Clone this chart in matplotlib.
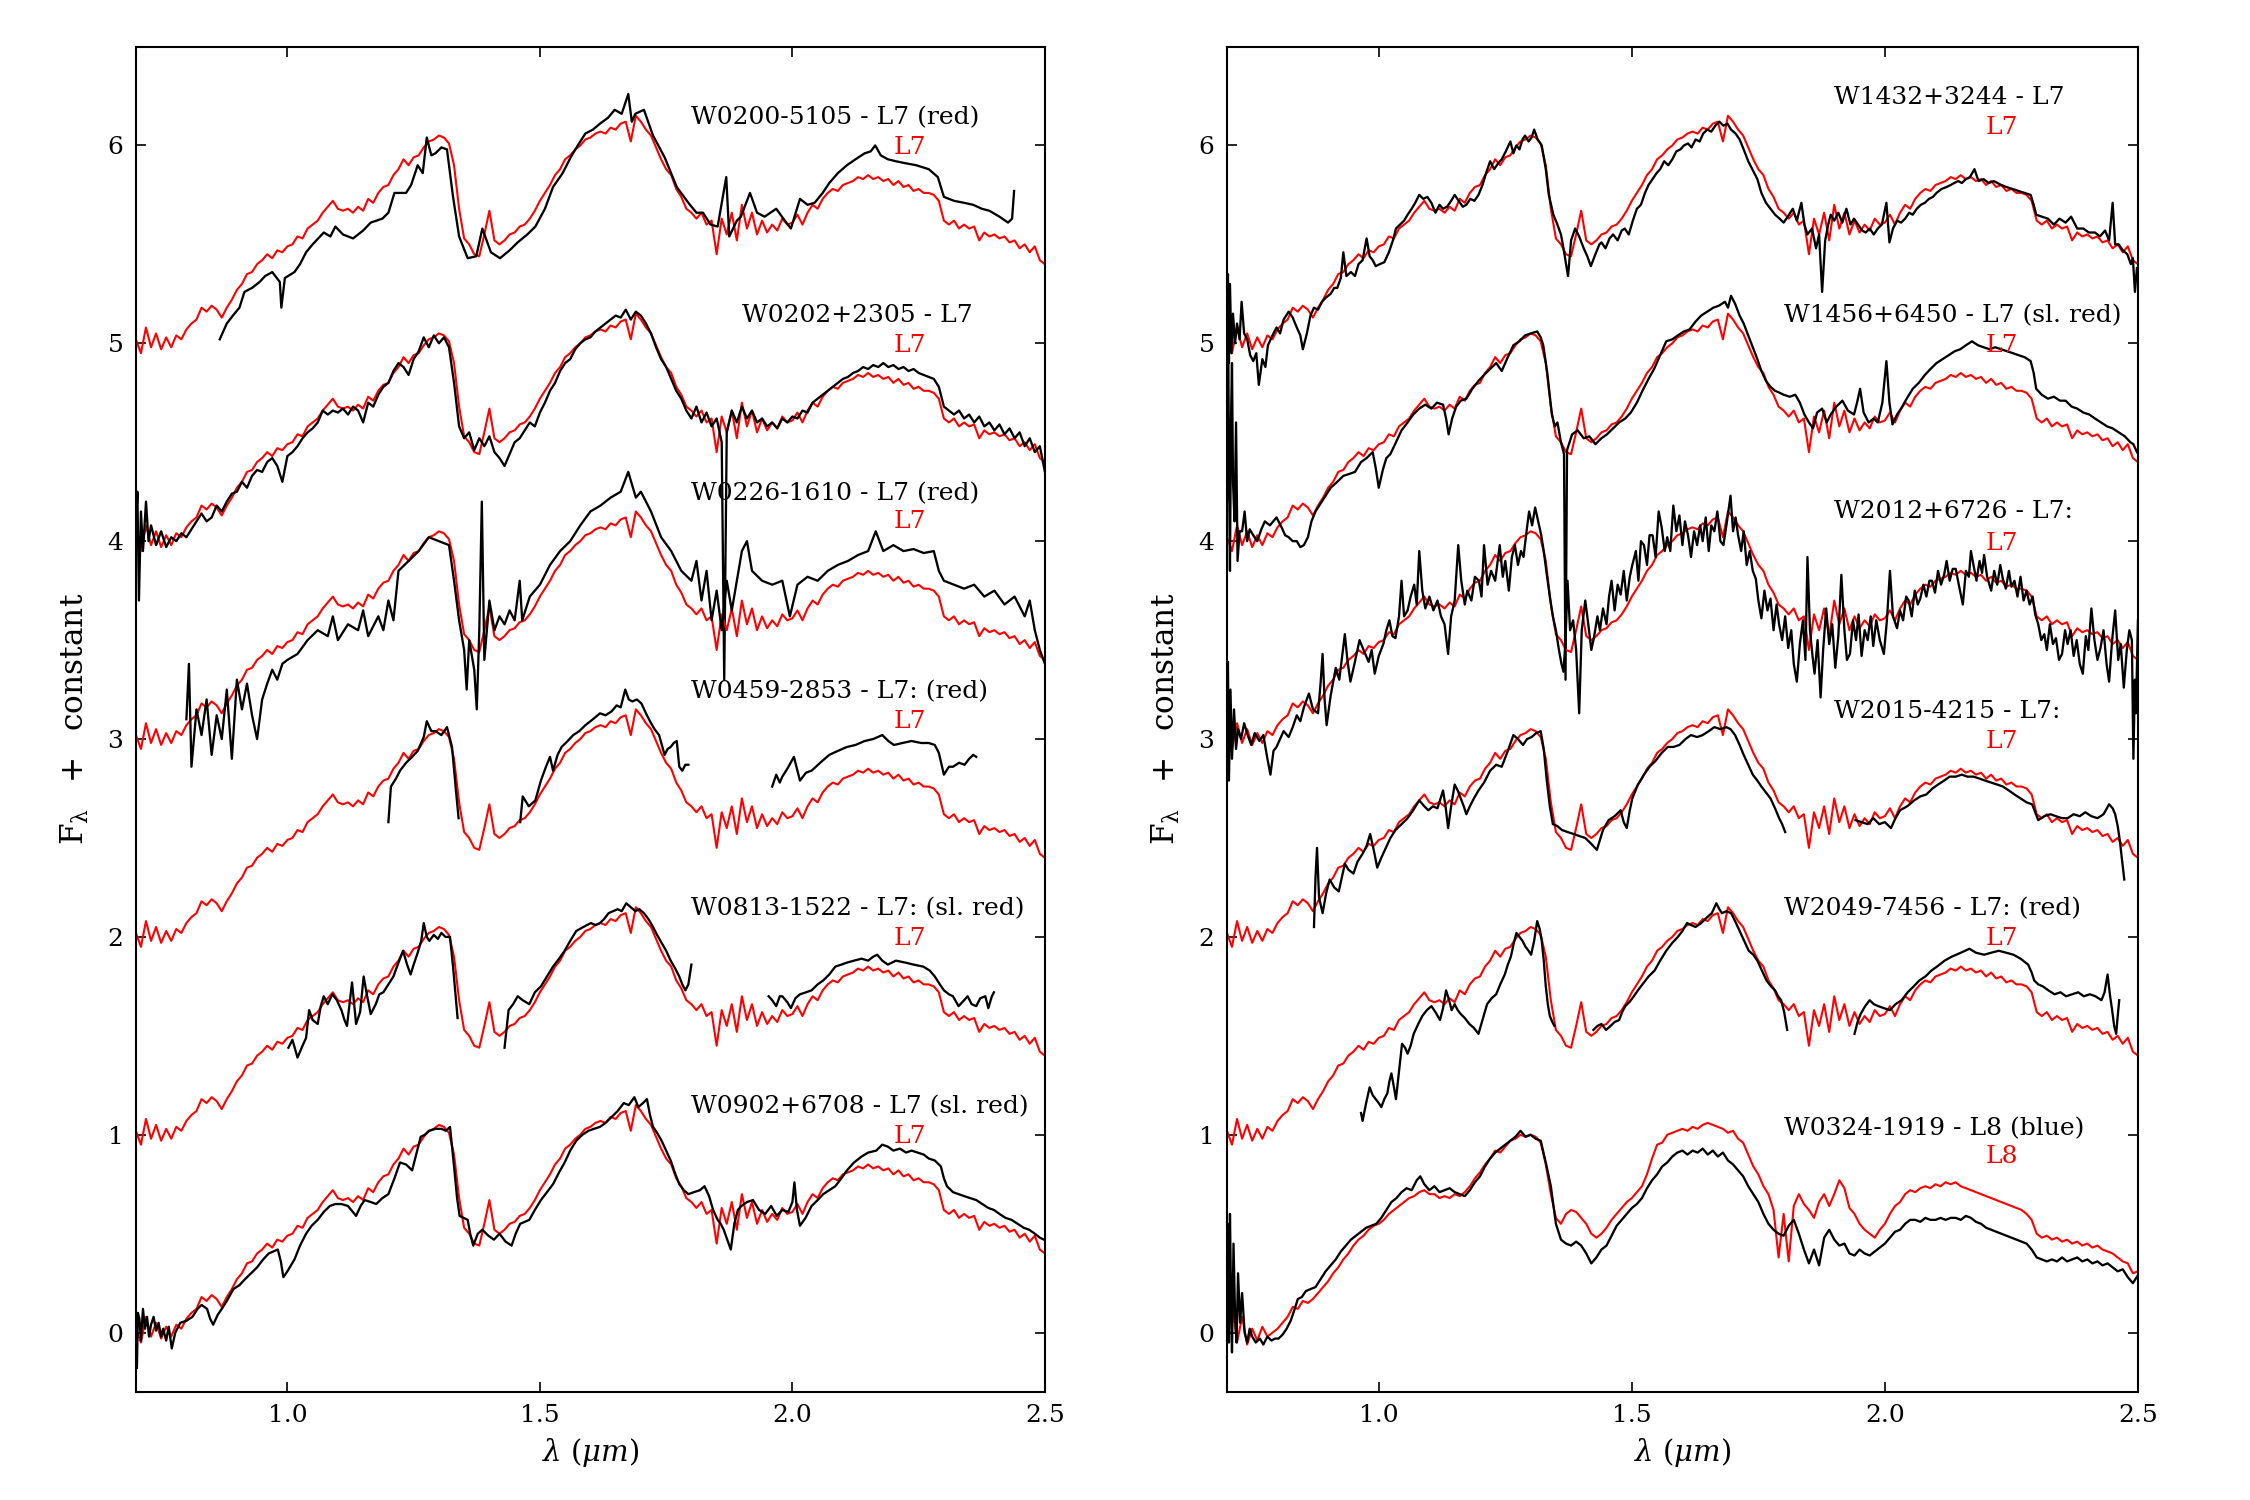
import numpy as np
import matplotlib
matplotlib.use("Agg")
import matplotlib.pyplot as plt

plt.rcParams['font.family'] = 'DejaVu Serif'
plt.rcParams['mathtext.fontset'] = 'dejavuserif'

nan = np.nan

# template grid (um), 0.70 .. 2.50 in steps of 0.01
tpl_wave = np.arange(70, 251) / 100.0

# L7 standard, normalised at 1.3 um
L7_flux = [
    0.02, -0.05, 0.08, -0.02, 0.05, -0.03, 0.03, -0.02, 0.04, 0.02,
    0.07, 0.10, 0.12, 0.18, 0.16, 0.19, 0.17, 0.13, 0.18, 0.22,
    0.27, 0.30, 0.35, 0.36, 0.40, 0.42, 0.45, 0.43, 0.47, 0.46,
    0.49, 0.50, 0.54, 0.53, 0.58, 0.60, 0.62, 0.66, 0.69, 0.72,
    0.68, 0.67, 0.68, 0.66, 0.69, 0.67, 0.73, 0.71, 0.76, 0.79,
    0.80, 0.85, 0.88, 0.93, 0.90, 0.94, 0.95, 0.99, 1.02, 1.03,
    1.05, 1.04, 1.01, 0.90, 0.68, 0.53, 0.50, 0.45, 0.44, 0.55,
    0.67, 0.52, 0.50, 0.52, 0.55, 0.56, 0.59, 0.60, 0.63, 0.67,
    0.72, 0.76, 0.80, 0.85, 0.88, 0.93, 0.95, 0.98, 1.00, 1.03,
    1.04, 1.06, 1.07, 1.06, 1.09, 1.08, 1.11, 1.12, 1.02, 1.15,
    1.12, 1.08, 1.05, 0.99, 0.93, 0.88, 0.85, 0.78, 0.74, 0.68,
    0.66, 0.63, 0.66, 0.60, 0.62, 0.45, 0.63, 0.55, 0.66, 0.52,
    0.70, 0.58, 0.66, 0.55, 0.62, 0.56, 0.60, 0.57, 0.63, 0.60,
    0.61, 0.65, 0.60, 0.66, 0.70, 0.68, 0.73, 0.76, 0.78, 0.77,
    0.80, 0.81, 0.82, 0.84, 0.83, 0.85, 0.83, 0.84, 0.82, 0.83,
    0.80, 0.82, 0.79, 0.80, 0.77, 0.78, 0.76, 0.76, 0.75, 0.72,
    0.62, 0.60, 0.62, 0.58, 0.60, 0.58, 0.59, 0.52, 0.56, 0.54,
    0.55, 0.53, 0.54, 0.51, 0.52, 0.48, 0.50, 0.46, 0.49, 0.42,
    0.40]

# L8 standard
L8_flux = [
    0.06, 0.15, -0.05, 0.08, -0.06, 0.02, -0.04, 0.03, -0.02, 0.00,
    0.02, 0.05, 0.08, 0.13, 0.12, 0.16, 0.15, 0.17, 0.20, 0.23,
    0.26, 0.30, 0.33, 0.37, 0.40, 0.44, 0.47, 0.49, 0.52, 0.54,
    0.55, 0.57, 0.60, 0.62, 0.64, 0.66, 0.68, 0.69, 0.71, 0.72,
    0.70, 0.70, 0.68, 0.69, 0.68, 0.70, 0.69, 0.71, 0.74, 0.78,
    0.81, 0.85, 0.88, 0.92, 0.91, 0.94, 0.97, 0.98, 1.00, 0.99,
    1.00, 0.99, 0.96, 0.85, 0.70, 0.58, 0.55, 0.60, 0.62, 0.61,
    0.58, 0.55, 0.50, 0.48, 0.50, 0.53, 0.57, 0.60, 0.63, 0.66,
    0.68, 0.71, 0.74, 0.80, 0.88, 0.95, 0.96, 1.00, 1.01, 1.02,
    1.03, 1.02, 1.04, 1.03, 1.05, 1.06, 1.05, 1.04, 1.03, 1.01,
    1.02, 0.98, 0.96, 0.90, 0.84, 0.80, 0.74, 0.70, 0.62, 0.38,
    0.60, 0.36, 0.64, 0.70, 0.65, 0.62, 0.58, 0.66, 0.70, 0.64,
    0.70, 0.77, 0.73, 0.63, 0.60, 0.55, 0.52, 0.50, 0.48, 0.52,
    0.55, 0.60, 0.64, 0.66, 0.70, 0.72, 0.71, 0.73, 0.74, 0.73,
    0.75, 0.74, 0.76, 0.75, 0.76, 0.74, 0.73, 0.72, 0.71, 0.70,
    0.69, 0.68, 0.67, 0.66, 0.65, 0.64, 0.63, 0.62, 0.60, 0.57,
    0.50, 0.48, 0.49, 0.47, 0.48, 0.46, 0.47, 0.45, 0.46, 0.44,
    0.45, 0.43, 0.44, 0.42, 0.41, 0.40, 0.38, 0.36, 0.35, 0.30,
    0.31]

# observed spectra: (wavelength, normalised flux), nan marks a gap
W0200 = [(0.866, 0.02), (0.880, 0.10), (0.892, 0.14), (0.905, 0.18), (0.915, 0.26), (0.930, 0.28),
         (0.945, 0.31), (0.956, 0.34), (0.970, 0.36), (0.985, 0.31), (0.988, 0.18), (0.995, 0.33),
         (1.014, 0.36), (1.025, 0.40), (1.037, 0.46), (1.050, 0.50), (1.072, 0.56), (1.085, 0.54),
         (1.095, 0.59), (1.110, 0.55), (1.130, 0.53), (1.150, 0.57), (1.165, 0.61), (1.188, 0.63),
         (1.200, 0.66), (1.212, 0.76), (1.235, 0.76), (1.245, 0.80), (1.258, 0.90), (1.268, 0.86),
         (1.276, 1.04), (1.285, 0.95), (1.293, 0.96), (1.305, 0.99), (1.316, 0.98), (1.328, 0.74),
         (1.340, 0.54), (1.357, 0.43), (1.374, 0.44), (1.386, 0.58), (1.403, 0.46), (1.421, 0.43),
         (1.440, 0.47), (1.456, 0.51), (1.475, 0.55), (1.491, 0.59), (1.510, 0.68), (1.526, 0.79),
         (1.545, 0.86), (1.561, 0.94), (1.575, 1.00), (1.590, 1.06), (1.605, 1.08), (1.619, 1.11),
         (1.635, 1.14), (1.648, 1.18), (1.662, 1.16), (1.675, 1.26), (1.682, 1.12), (1.689, 1.16),
         (1.706, 1.18), (1.724, 1.05), (1.747, 0.94), (1.771, 0.79), (1.794, 0.71), (1.810, 0.66),
         (1.823, 0.66), (1.838, 0.60), (1.852, 0.59), (1.869, 0.84), (1.875, 0.54), (1.890, 0.62),
         (1.898, 0.64), (1.916, 0.76), (1.930, 0.66), (1.945, 0.64), (1.968, 0.68), (1.985, 0.62),
         (1.997, 0.58), (2.015, 0.73), (2.030, 0.70), (2.044, 0.71), (2.060, 0.76), (2.073, 0.81),
         (2.090, 0.86), (2.108, 0.90), (2.125, 0.93), (2.143, 0.96), (2.155, 0.97), (2.164, 1.00),
         (2.175, 0.95), (2.189, 0.93), (2.205, 0.92), (2.224, 0.91), (2.245, 0.90), (2.270, 0.88),
         (2.288, 0.84), (2.300, 0.74), (2.320, 0.72), (2.340, 0.71), (2.358, 0.70), (2.375, 0.68),
         (2.390, 0.67), (2.410, 0.64), (2.427, 0.61), (2.435, 0.63), (2.439, 0.77)]

W0202 = [(0.700, 0.05), (0.703, 0.25), (0.706, -0.30), (0.710, 0.15), (0.714, -0.05), (0.720, 0.20),
         (0.725, 0.00), (0.730, 0.08), (0.740, -0.02), (0.750, 0.05), (0.760, -0.03), (0.770, 0.02),
         (0.780, 0.00), (0.790, 0.04), (0.800, 0.02), (0.810, 0.06), (0.820, 0.10), (0.830, 0.14),
         (0.840, 0.10), (0.850, 0.12), (0.860, 0.18), (0.870, 0.15), (0.880, 0.20), (0.890, 0.24),
         (0.900, 0.25), (0.910, 0.30), (0.920, 0.27), (0.930, 0.33), (0.940, 0.36), (0.950, 0.35),
         (0.960, 0.40), (0.970, 0.42), (0.980, 0.38), (0.990, 0.30), (1.000, 0.43), (1.010, 0.45),
         (1.020, 0.48), (1.030, 0.52), (1.040, 0.55), (1.050, 0.57), (1.060, 0.60), (1.070, 0.66),
         (1.080, 0.64), (1.090, 0.66), (1.100, 0.65), (1.110, 0.67), (1.120, 0.64), (1.130, 0.68),
         (1.140, 0.66), (1.150, 0.60), (1.160, 0.70), (1.170, 0.68), (1.180, 0.74), (1.190, 0.78),
         (1.200, 0.80), (1.210, 0.86), (1.220, 0.90), (1.230, 0.88), (1.240, 0.84), (1.250, 0.92),
         (1.260, 0.96), (1.270, 1.03), (1.280, 0.98), (1.290, 1.04), (1.300, 1.00), (1.310, 1.03),
         (1.320, 0.98), (1.330, 0.80), (1.340, 0.58), (1.350, 0.52), (1.360, 0.55), (1.370, 0.46),
         (1.380, 0.52), (1.390, 0.48), (1.400, 0.53), (1.410, 0.45), (1.420, 0.42), (1.430, 0.38),
         (1.440, 0.44), (1.450, 0.50), (1.460, 0.52), (1.470, 0.56), (1.480, 0.60), (1.490, 0.58),
         (1.500, 0.65), (1.510, 0.70), (1.520, 0.76), (1.530, 0.80), (1.540, 0.86), (1.550, 0.90),
         (1.560, 0.92), (1.570, 0.97), (1.580, 1.00), (1.590, 1.02), (1.600, 1.03), (1.610, 1.06),
         (1.620, 1.08), (1.630, 1.10), (1.640, 1.12), (1.650, 1.14), (1.660, 1.13), (1.670, 1.17),
         (1.680, 1.12), (1.690, 1.16), (1.700, 1.14), (1.710, 1.10), (1.720, 1.05), (1.730, 0.98),
         (1.740, 0.92), (1.750, 0.88), (1.760, 0.82), (1.770, 0.76), (1.780, 0.72), (1.790, 0.66),
         (1.800, 0.62), (1.810, 0.68), (1.820, 0.60), (1.830, 0.65), (1.840, 0.58), (1.850, 0.62),
         (1.860, 0.50), (1.865, -0.70), (1.870, 0.55), (1.880, 0.66), (1.890, 0.60), (1.900, 0.68),
         (1.910, 0.62), (1.920, 0.66), (1.930, 0.60), (1.940, 0.62), (1.950, 0.58), (1.960, 0.60),
         (1.970, 0.57), (1.980, 0.62), (1.990, 0.60), (2.000, 0.63), (2.010, 0.62), (2.020, 0.66),
         (2.030, 0.65), (2.040, 0.70), (2.050, 0.72), (2.060, 0.74), (2.070, 0.76), (2.080, 0.78),
         (2.090, 0.80), (2.100, 0.82), (2.110, 0.83), (2.120, 0.85), (2.130, 0.86), (2.140, 0.88),
         (2.150, 0.87), (2.160, 0.89), (2.170, 0.88), (2.180, 0.90), (2.190, 0.88), (2.200, 0.89),
         (2.210, 0.87), (2.220, 0.88), (2.230, 0.86), (2.240, 0.87), (2.250, 0.85), (2.260, 0.84),
         (2.270, 0.83), (2.280, 0.82), (2.290, 0.78), (2.300, 0.68), (2.310, 0.66), (2.320, 0.64),
         (2.330, 0.66), (2.340, 0.62), (2.350, 0.64), (2.360, 0.60), (2.370, 0.63), (2.380, 0.58),
         (2.390, 0.60), (2.400, 0.56), (2.410, 0.59), (2.420, 0.54), (2.430, 0.57), (2.440, 0.52),
         (2.450, 0.55), (2.460, 0.48), (2.470, 0.52), (2.480, 0.45), (2.490, 0.48), (2.500, 0.35)]

W0226 = [(0.800, 0.10), (0.805, 0.38), (0.810, -0.14), (0.820, 0.15), (0.830, 0.02), (0.840, 0.20),
         (0.850, -0.08), (0.860, 0.12), (0.870, 0.00), (0.880, 0.25), (0.890, -0.10), (0.900, 0.30),
         (0.910, 0.15), (0.920, 0.28), (0.930, 0.12), (0.940, 0.00), (0.950, 0.20), (0.960, 0.28),
         (0.970, 0.35), (0.980, 0.30), (0.990, 0.38), (1.000, 0.40), (1.020, 0.43), (1.040, 0.50),
         (1.060, 0.55), (1.080, 0.52), (1.090, 0.62), (1.100, 0.50), (1.120, 0.58), (1.140, 0.55),
         (1.150, 0.65), (1.160, 0.52), (1.180, 0.62), (1.190, 0.55), (1.200, 0.70), (1.210, 0.60),
         (1.220, 0.85), (1.240, 0.90), (1.260, 0.95), (1.280, 1.02), (1.300, 1.00), (1.320, 0.98),
         (1.330, 0.80), (1.340, 0.60), (1.350, 0.45), (1.355, 0.25), (1.360, 0.50), (1.370, 0.35),
         (1.375, 0.15), (1.380, 0.55), (1.385, 1.20), (1.390, 0.40), (1.400, 0.70), (1.410, 0.55),
         (1.420, 0.62), (1.430, 0.58), (1.440, 0.65), (1.450, 0.60), (1.460, 0.80), (1.465, 0.60),
         (1.480, 0.72), (1.500, 0.78), (1.520, 0.88), (1.540, 0.95), (1.560, 1.00), (1.580, 1.08),
         (1.600, 1.15), (1.620, 1.18), (1.640, 1.22), (1.660, 1.25), (1.675, 1.35), (1.690, 1.22),
         (1.700, 1.25), (1.720, 1.15), (1.740, 1.02), (1.760, 0.95), (1.780, 0.85), (1.800, 0.80),
         (1.810, 0.90), (1.820, 0.70), (1.830, 0.85), (1.840, 0.60), (1.850, 0.75), (1.860, 0.55),
         (1.870, 0.80), (1.880, 0.65), (1.900, 0.95), (1.910, 1.00), (1.920, 0.85), (1.940, 0.80),
         (1.960, 0.78), (1.980, 0.80), (1.995, 0.62), (2.010, 0.78), (2.030, 0.82), (2.050, 0.80),
         (2.070, 0.85), (2.090, 0.88), (2.110, 0.90), (2.130, 0.93), (2.150, 0.95), (2.165, 1.05),
         (2.180, 0.95), (2.200, 0.98), (2.220, 0.95), (2.240, 0.96), (2.260, 0.94), (2.280, 0.95),
         (2.290, 0.85), (2.300, 0.80), (2.320, 0.78), (2.340, 0.76), (2.360, 0.78), (2.380, 0.72),
         (2.400, 0.75), (2.420, 0.68), (2.440, 0.72), (2.460, 0.62), (2.470, 0.70), (2.480, 0.55),
         (2.490, 0.45), (2.500, 0.38)]

W0459 = [(1.200, 0.58), (1.205, 0.76), (1.215, 0.80), (1.223, 0.84), (1.235, 0.88), (1.247, 0.91),
         (1.258, 0.94), (1.270, 1.01), (1.276, 1.09), (1.285, 1.04), (1.293, 1.04), (1.305, 1.02),
         (1.316, 1.06), (1.326, 0.96), (1.333, 0.76), (1.339, 0.60), (1.400, nan),
         (1.461, 0.58), (1.466, 0.71), (1.478, 0.66), (1.491, 0.69), (1.502, 0.79), (1.512, 0.86),
         (1.520, 0.91), (1.526, 0.84), (1.535, 0.92), (1.543, 0.96), (1.555, 0.99), (1.566, 1.02),
         (1.578, 1.04), (1.590, 1.07), (1.605, 1.10), (1.619, 1.13), (1.630, 1.12), (1.642, 1.14),
         (1.652, 1.17), (1.660, 1.16), (1.669, 1.25), (1.676, 1.20), (1.683, 1.19), (1.692, 1.20),
         (1.701, 1.18), (1.710, 1.13), (1.718, 1.09), (1.727, 1.05), (1.736, 1.02), (1.747, 0.92),
         (1.753, 0.95), (1.759, 0.96), (1.765, 0.98), (1.771, 0.99), (1.776, 0.86), (1.782, 0.84),
         (1.788, 0.87), (1.794, 0.87), (1.850, nan),
         (1.960, 0.76), (1.968, 0.82), (1.975, 0.78), (1.980, 0.81), (1.990, 0.85), (2.003, 0.91),
         (2.015, 0.79), (2.027, 0.83), (2.038, 0.84), (2.055, 0.88), (2.073, 0.92), (2.090, 0.94),
         (2.108, 0.96), (2.125, 0.97), (2.143, 0.99), (2.160, 1.00), (2.178, 1.02), (2.190, 0.99),
         (2.201, 0.97), (2.218, 0.98), (2.236, 0.99), (2.255, 0.98), (2.270, 0.98), (2.282, 0.97),
         (2.290, 0.93), (2.300, 0.82), (2.310, 0.86), (2.318, 0.86), (2.330, 0.88), (2.341, 0.87),
         (2.350, 0.90), (2.358, 0.92), (2.364, 0.91)]

W0813 = [(1.002, 0.44), (1.010, 0.48), (1.020, 0.39), (1.030, 0.45), (1.037, 0.49), (1.043, 0.63),
         (1.050, 0.58), (1.060, 0.56), (1.066, 0.65), (1.072, 0.70), (1.080, 0.66), (1.089, 0.71),
         (1.098, 0.68), (1.107, 0.63), (1.113, 0.58), (1.118, 0.55), (1.128, 0.77), (1.136, 0.56),
         (1.144, 0.62), (1.151, 0.80), (1.158, 0.70), (1.165, 0.61), (1.175, 0.66), (1.182, 0.71),
         (1.190, 0.72), (1.200, 0.76), (1.210, 0.80), (1.217, 0.85), (1.229, 0.93), (1.237, 0.86),
         (1.244, 0.81), (1.250, 0.86), (1.258, 0.92), (1.265, 0.98), (1.270, 1.07), (1.276, 1.00),
         (1.281, 0.98), (1.290, 1.01), (1.298, 0.99), (1.305, 1.02), (1.313, 1.00), (1.322, 1.00),
         (1.328, 0.85), (1.334, 0.68), (1.337, 0.59), (1.380, nan),
         (1.430, 0.44), (1.438, 0.63), (1.447, 0.66), (1.456, 0.70), (1.466, 0.68), (1.479, 0.66),
         (1.490, 0.72), (1.502, 0.75), (1.514, 0.80), (1.526, 0.85), (1.538, 0.89), (1.549, 0.93),
         (1.560, 0.98), (1.572, 1.03), (1.586, 1.05), (1.601, 1.07), (1.610, 1.06), (1.619, 1.07),
         (1.627, 1.09), (1.636, 1.12), (1.645, 1.13), (1.654, 1.14), (1.662, 1.13), (1.671, 1.17),
         (1.680, 1.15), (1.689, 1.13), (1.697, 1.14), (1.706, 1.12), (1.715, 1.09), (1.724, 1.05),
         (1.732, 1.01), (1.741, 0.97), (1.750, 0.93), (1.759, 0.88), (1.768, 0.84), (1.776, 0.80),
         (1.782, 0.76), (1.788, 0.73), (1.794, 0.76), (1.800, 0.86), (1.850, nan),
         (1.953, 0.70), (1.960, 0.68), (1.968, 0.65), (1.975, 0.70), (1.980, 0.70), (1.990, 0.67),
         (1.997, 0.64), (2.006, 0.69), (2.015, 0.71), (2.027, 0.72), (2.038, 0.73), (2.050, 0.76),
         (2.061, 0.78), (2.073, 0.81), (2.085, 0.85), (2.097, 0.86), (2.108, 0.87), (2.122, 0.88),
         (2.137, 0.89), (2.150, 0.88), (2.160, 0.90), (2.168, 0.91), (2.178, 0.88), (2.189, 0.86),
         (2.205, 0.88), (2.224, 0.87), (2.240, 0.86), (2.259, 0.85), (2.272, 0.83), (2.282, 0.80),
         (2.292, 0.76), (2.300, 0.73), (2.310, 0.71), (2.318, 0.70), (2.329, 0.65), (2.340, 0.68),
         (2.347, 0.70), (2.355, 0.66), (2.364, 0.65), (2.372, 0.69), (2.382, 0.70), (2.388, 0.64),
         (2.395, 0.70), (2.399, 0.72)]

W0902 = [(0.700, 0.00), (0.702, -0.18), (0.704, 0.10), (0.707, 0.07), (0.710, -0.04), (0.714, 0.12),
         (0.718, 0.02), (0.722, 0.08), (0.726, -0.02), (0.730, 0.04), (0.735, 0.08), (0.740, 0.01),
         (0.745, 0.05), (0.750, -0.02), (0.754, 0.02), (0.760, -0.04), (0.765, 0.03), (0.771, -0.08),
         (0.778, 0.00), (0.788, 0.05), (0.800, 0.06), (0.812, 0.08), (0.822, 0.12), (0.830, 0.14),
         (0.841, 0.12), (0.847, 0.07), (0.853, 0.04), (0.862, 0.09), (0.870, 0.12), (0.880, 0.16),
         (0.893, 0.22), (0.905, 0.24), (0.916, 0.27), (0.928, 0.30), (0.940, 0.33), (0.952, 0.37),
         (0.963, 0.40), (0.972, 0.41), (0.981, 0.42), (0.987, 0.36), (0.992, 0.28), (1.000, 0.31),
         (1.014, 0.37), (1.025, 0.44), (1.037, 0.50), (1.048, 0.54), (1.060, 0.57), (1.072, 0.61),
         (1.084, 0.64), (1.095, 0.65), (1.107, 0.65), (1.120, 0.64), (1.136, 0.59), (1.145, 0.64),
         (1.153, 0.67), (1.165, 0.66), (1.176, 0.65), (1.188, 0.68), (1.200, 0.70), (1.212, 0.78),
         (1.223, 0.86), (1.235, 0.85), (1.247, 0.82), (1.255, 0.90), (1.264, 0.99), (1.272, 1.00),
         (1.281, 1.02), (1.293, 1.03), (1.305, 1.03), (1.314, 1.02), (1.322, 1.04), (1.330, 0.84),
         (1.336, 0.68), (1.341, 0.59), (1.349, 0.58), (1.357, 0.57), (1.362, 0.50), (1.368, 0.44),
         (1.377, 0.50), (1.386, 0.52), (1.398, 0.49), (1.409, 0.47), (1.420, 0.50), (1.432, 0.46),
         (1.444, 0.44), (1.452, 0.50), (1.461, 0.55), (1.470, 0.56), (1.479, 0.57), (1.490, 0.62),
         (1.502, 0.67), (1.514, 0.71), (1.526, 0.75), (1.538, 0.81), (1.549, 0.86), (1.560, 0.92),
         (1.572, 0.97), (1.584, 1.00), (1.596, 1.02), (1.607, 1.03), (1.619, 1.04), (1.630, 1.06),
         (1.642, 1.09), (1.654, 1.12), (1.666, 1.16), (1.676, 1.15), (1.687, 1.19), (1.695, 1.14),
         (1.704, 1.16), (1.712, 1.18), (1.718, 1.10), (1.724, 1.04), (1.732, 1.01), (1.741, 0.97),
         (1.750, 0.92), (1.759, 0.87), (1.767, 0.81), (1.776, 0.75), (1.785, 0.72), (1.794, 0.70),
         (1.805, 0.71), (1.817, 0.72), (1.826, 0.74), (1.835, 0.69), (1.843, 0.62), (1.852, 0.57),
         (1.858, 0.55), (1.864, 0.52), (1.871, 0.47), (1.878, 0.42), (1.885, 0.55), (1.892, 0.62),
         (1.899, 0.64), (1.910, 0.66), (1.922, 0.67), (1.934, 0.62), (1.946, 0.60), (1.958, 0.64),
         (1.969, 0.59), (1.980, 0.62), (1.992, 0.61), (2.000, 0.66), (2.004, 0.76), (2.009, 0.62),
         (2.015, 0.54), (2.026, 0.58), (2.038, 0.64), (2.050, 0.67), (2.061, 0.70), (2.073, 0.72),
         (2.085, 0.74), (2.097, 0.78), (2.108, 0.82), (2.122, 0.86), (2.137, 0.89), (2.150, 0.91),
         (2.166, 0.92), (2.178, 0.95), (2.189, 0.94), (2.200, 0.92), (2.213, 0.93), (2.225, 0.91),
         (2.236, 0.92), (2.248, 0.91), (2.260, 0.90), (2.270, 0.88), (2.282, 0.87), (2.294, 0.84),
         (2.300, 0.78), (2.306, 0.74), (2.318, 0.71), (2.329, 0.70), (2.340, 0.69), (2.352, 0.68),
         (2.364, 0.67), (2.376, 0.65), (2.388, 0.63), (2.399, 0.62), (2.410, 0.60), (2.422, 0.58),
         (2.434, 0.57), (2.446, 0.55), (2.458, 0.53), (2.469, 0.52), (2.480, 0.50), (2.490, 0.48),
         (2.498, 0.47)]

W1432 = [(0.700, 0.05), (0.702, 0.35), (0.704, -0.10), (0.706, 0.30), (0.709, -0.05), (0.712, 0.15),
         (0.716, 0.00), (0.720, 0.10), (0.725, 0.02), (0.729, 0.21), (0.734, 0.05), (0.740, 0.02),
         (0.746, -0.06), (0.752, -0.09), (0.758, -0.05), (0.763, -0.21), (0.770, -0.08), (0.776, -0.12),
         (0.781, -0.01), (0.790, 0.04), (0.798, 0.08), (0.805, 0.05), (0.812, 0.12), (0.822, 0.16),
         (0.830, 0.13), (0.838, 0.08), (0.845, 0.04), (0.850, -0.03), (0.858, 0.05), (0.865, 0.14),
         (0.872, 0.18), (0.880, 0.17), (0.888, 0.21), (0.895, 0.23), (0.905, 0.25), (0.912, 0.28),
         (0.918, 0.28), (0.925, 0.33), (0.930, 0.46), (0.936, 0.34), (0.945, 0.36), (0.953, 0.34),
         (0.960, 0.40), (0.968, 0.42), (0.976, 0.53), (0.982, 0.44), (0.988, 0.42), (0.994, 0.39),
         (1.002, 0.40), (1.011, 0.41), (1.020, 0.46), (1.028, 0.52), (1.034, 0.58), (1.042, 0.60),
         (1.050, 0.62), (1.057, 0.65), (1.065, 0.68), (1.072, 0.71), (1.080, 0.75), (1.088, 0.73),
         (1.096, 0.74), (1.104, 0.71), (1.112, 0.66), (1.120, 0.70), (1.127, 0.68), (1.135, 0.69),
         (1.143, 0.72), (1.150, 0.75), (1.158, 0.72), (1.166, 0.69), (1.173, 0.70), (1.181, 0.73),
         (1.189, 0.72), (1.197, 0.75), (1.205, 0.80), (1.212, 0.86), (1.220, 0.92), (1.228, 0.88),
         (1.236, 0.91), (1.243, 0.93), (1.251, 0.97), (1.260, 1.02), (1.266, 0.96), (1.272, 1.00),
         (1.278, 0.98), (1.284, 1.03), (1.289, 1.05), (1.296, 1.02), (1.302, 1.04), (1.307, 1.08),
         (1.314, 1.03), (1.322, 1.00), (1.330, 0.88), (1.336, 0.75), (1.345, 0.65), (1.353, 0.60),
         (1.360, 0.55), (1.365, 0.48), (1.370, 0.40), (1.374, 0.34), (1.380, 0.52), (1.388, 0.58),
         (1.396, 0.54), (1.405, 0.48), (1.412, 0.44), (1.419, 0.39), (1.428, 0.45), (1.436, 0.50),
         (1.440, 0.51), (1.448, 0.48), (1.456, 0.53), (1.463, 0.55), (1.472, 0.52), (1.480, 0.57),
         (1.486, 0.58), (1.494, 0.55), (1.502, 0.62), (1.510, 0.68), (1.518, 0.70), (1.526, 0.76),
         (1.533, 0.80), (1.541, 0.83), (1.549, 0.86), (1.556, 0.88), (1.564, 0.92), (1.572, 0.90),
         (1.580, 0.93), (1.588, 0.97), (1.596, 0.98), (1.603, 1.00), (1.611, 1.01), (1.618, 0.99),
         (1.626, 1.03), (1.634, 1.02), (1.641, 1.06), (1.649, 1.08), (1.657, 1.07), (1.665, 1.10),
         (1.673, 1.12), (1.681, 1.10), (1.689, 1.11), (1.696, 1.08), (1.705, 1.06), (1.713, 1.03),
         (1.721, 0.98), (1.730, 0.92), (1.738, 0.88), (1.748, 0.83), (1.756, 0.76), (1.765, 0.71),
         (1.774, 0.68), (1.783, 0.65), (1.792, 0.63), (1.800, 0.61), (1.808, 0.64), (1.818, 0.68),
         (1.826, 0.62), (1.835, 0.71), (1.841, 0.60), (1.847, 0.55), (1.856, 0.58), (1.864, 0.48),
         (1.870, 0.55), (1.876, 0.26), (1.882, 0.52), (1.888, 0.60), (1.893, 0.65), (1.900, 0.62),
         (1.908, 0.66), (1.916, 0.61), (1.924, 0.68), (1.932, 0.60), (1.939, 0.63), (1.947, 0.60),
         (1.955, 0.57), (1.962, 0.56), (1.970, 0.58), (1.978, 0.55), (1.986, 0.58), (1.994, 0.60),
         (2.003, 0.71), (2.009, 0.51), (2.016, 0.58), (2.024, 0.62), (2.032, 0.61), (2.040, 0.63),
         (2.048, 0.66), (2.055, 0.65), (2.063, 0.68), (2.071, 0.70), (2.079, 0.71), (2.087, 0.73),
         (2.095, 0.74), (2.102, 0.76), (2.112, 0.78), (2.122, 0.79), (2.130, 0.80), (2.137, 0.81),
         (2.145, 0.82), (2.152, 0.81), (2.160, 0.83), (2.168, 0.84), (2.177, 0.88), (2.185, 0.82),
         (2.195, 0.83), (2.205, 0.81), (2.215, 0.82), (2.230, 0.80), (2.240, 0.79), (2.252, 0.78),
         (2.264, 0.77), (2.276, 0.76), (2.288, 0.75), (2.294, 0.70), (2.299, 0.65), (2.310, 0.64),
         (2.322, 0.63), (2.334, 0.60), (2.345, 0.63), (2.357, 0.61), (2.368, 0.64), (2.380, 0.58),
         (2.392, 0.58), (2.403, 0.56), (2.415, 0.56), (2.425, 0.54), (2.435, 0.57), (2.443, 0.52),
         (2.450, 0.71), (2.455, 0.50), (2.462, 0.50), (2.470, 0.47), (2.479, 0.45), (2.486, 0.40),
         (2.490, 0.43), (2.494, 0.26), (2.498, 0.38)]

W1456 = [(0.700, 0.20), (0.702, 1.30), (0.704, 0.40), (0.706, -0.15), (0.708, 0.60), (0.710, 0.90),
         (0.712, 0.30), (0.715, 0.10), (0.718, 0.60), (0.721, -0.10), (0.725, 0.05), (0.730, 0.05),
         (0.735, 0.15), (0.740, 0.00), (0.745, 0.06), (0.752, 0.03), (0.760, 0.00), (0.768, 0.06),
         (0.775, 0.10), (0.785, 0.08), (0.798, 0.12), (0.808, 0.07), (0.815, 0.03), (0.822, 0.02),
         (0.830, 0.00), (0.838, 0.00), (0.845, -0.03), (0.852, -0.02), (0.860, 0.02), (0.867, 0.10),
         (0.875, 0.15), (0.885, 0.19), (0.895, 0.23), (0.905, 0.27), (0.918, 0.30), (0.930, 0.33),
         (0.942, 0.34), (0.953, 0.35), (0.965, 0.40), (0.976, 0.42), (0.988, 0.45), (0.994, 0.37),
         (1.000, 0.27), (1.008, 0.36), (1.015, 0.42), (1.023, 0.44), (1.034, 0.50), (1.045, 0.56),
         (1.057, 0.60), (1.068, 0.64), (1.080, 0.67), (1.092, 0.69), (1.104, 0.67), (1.115, 0.70),
         (1.127, 0.69), (1.133, 0.62), (1.138, 0.54), (1.145, 0.62), (1.153, 0.68), (1.162, 0.71),
         (1.173, 0.72), (1.185, 0.77), (1.197, 0.81), (1.208, 0.84), (1.220, 0.87), (1.232, 0.90),
         (1.243, 0.86), (1.255, 0.93), (1.266, 0.99), (1.278, 1.01), (1.289, 1.04), (1.301, 1.05),
         (1.313, 1.06), (1.320, 1.03), (1.325, 0.99), (1.333, 0.85), (1.342, 0.64), (1.348, 0.58),
         (1.353, 0.60), (1.360, 0.50), (1.366, 0.44), (1.369, -0.70), (1.372, 0.46), (1.382, 0.54),
         (1.393, 0.56), (1.405, 0.52), (1.416, 0.53), (1.428, 0.49), (1.440, 0.52), (1.451, 0.54),
         (1.463, 0.57), (1.475, 0.60), (1.487, 0.62), (1.498, 0.65), (1.510, 0.70), (1.521, 0.76),
         (1.533, 0.82), (1.544, 0.87), (1.556, 0.94), (1.568, 1.01), (1.580, 1.02), (1.591, 1.04),
         (1.603, 1.06), (1.614, 1.07), (1.626, 1.11), (1.637, 1.14), (1.649, 1.16), (1.661, 1.18),
         (1.672, 1.19), (1.684, 1.21), (1.690, 1.18), (1.696, 1.24), (1.704, 1.20), (1.713, 1.14),
         (1.721, 1.10), (1.730, 1.04), (1.739, 0.98), (1.748, 0.92), (1.756, 0.86), (1.765, 0.81),
         (1.774, 0.78), (1.783, 0.76), (1.792, 0.75), (1.800, 0.74), (1.812, 0.73), (1.823, 0.74),
         (1.832, 0.70), (1.841, 0.64), (1.850, 0.60), (1.858, 0.57), (1.866, 0.65), (1.876, 0.67),
         (1.885, 0.60), (1.893, 0.64), (1.904, 0.68), (1.916, 0.71), (1.927, 0.66), (1.939, 0.64),
         (1.945, 0.70), (1.951, 0.77), (1.958, 0.65), (1.968, 0.60), (1.978, 0.62), (1.986, 0.60),
         (1.995, 0.70), (2.003, 0.91), (2.009, 0.70), (2.015, 0.59), (2.024, 0.64), (2.032, 0.67),
         (2.043, 0.72), (2.055, 0.77), (2.067, 0.80), (2.079, 0.84), (2.090, 0.87), (2.102, 0.90),
         (2.114, 0.92), (2.126, 0.94), (2.138, 0.96), (2.149, 0.97), (2.160, 0.99), (2.172, 1.01),
         (2.184, 0.99), (2.195, 0.98), (2.207, 0.97), (2.218, 0.98), (2.230, 0.97), (2.241, 0.96),
         (2.253, 0.95), (2.264, 0.94), (2.276, 0.93), (2.288, 0.91), (2.294, 0.85), (2.299, 0.77),
         (2.310, 0.74), (2.322, 0.72), (2.334, 0.73), (2.346, 0.71), (2.357, 0.71), (2.369, 0.68),
         (2.380, 0.67), (2.392, 0.65), (2.404, 0.64), (2.415, 0.62), (2.427, 0.60), (2.439, 0.58),
         (2.450, 0.57), (2.462, 0.55), (2.474, 0.53), (2.485, 0.50), (2.491, 0.49), (2.498, 0.45)]

W2012 = [(0.700, 0.10), (0.702, 0.39), (0.704, -0.21), (0.707, 0.25), (0.710, -0.10), (0.714, 0.15),
         (0.718, -0.05), (0.722, 0.05), (0.728, 0.00), (0.734, 0.08), (0.741, 0.02), (0.748, -0.03),
         (0.755, 0.03), (0.764, -0.01), (0.772, 0.02), (0.780, -0.10), (0.786, -0.18), (0.792, -0.06),
         (0.798, -0.04), (0.805, 0.00), (0.812, 0.04), (0.822, 0.01), (0.830, 0.06), (0.838, 0.12),
         (0.845, 0.09), (0.852, 0.16), (0.862, 0.23), (0.870, 0.15), (0.880, 0.13), (0.885, 0.28),
         (0.889, 0.43), (0.893, 0.20), (0.897, 0.07), (0.905, 0.22), (0.915, 0.36), (0.922, 0.30),
         (0.933, 0.53), (0.938, 0.40), (0.944, 0.29), (0.952, 0.38), (0.962, 0.50), (0.970, 0.45),
         (0.980, 0.39), (0.986, 0.45), (0.992, 0.33), (1.000, 0.42), (1.009, 0.48), (1.015, 0.55),
         (1.021, 0.60), (1.027, 0.52), (1.033, 0.51), (1.040, 0.62), (1.045, 0.80), (1.050, 0.62),
         (1.057, 0.65), (1.063, 0.72), (1.070, 0.78), (1.075, 0.68), (1.080, 0.95), (1.086, 0.75),
         (1.092, 0.66), (1.100, 0.72), (1.108, 0.65), (1.116, 0.70), (1.123, 0.62), (1.130, 0.58),
         (1.137, 0.43), (1.143, 0.62), (1.150, 0.70), (1.157, 0.98), (1.163, 0.80), (1.170, 0.68),
         (1.175, 0.75), (1.183, 0.70), (1.190, 0.82), (1.198, 0.80), (1.203, 0.72), (1.208, 0.98),
         (1.215, 0.78), (1.222, 0.85), (1.230, 0.80), (1.239, 0.98), (1.245, 0.82), (1.250, 0.90),
         (1.257, 0.75), (1.263, 0.92), (1.269, 0.98), (1.275, 0.88), (1.281, 0.95), (1.286, 0.92),
         (1.292, 1.05), (1.297, 1.15), (1.303, 1.08), (1.309, 1.17), (1.315, 1.10), (1.321, 1.03),
         (1.326, 0.95), (1.332, 0.83), (1.338, 0.72), (1.344, 0.62), (1.350, 0.55), (1.356, 0.45),
         (1.361, 0.38), (1.365, 0.34), (1.369, 0.50), (1.373, 0.80), (1.378, 0.55), (1.384, 0.60),
         (1.390, 0.45), (1.396, 0.13), (1.401, 0.55), (1.408, 0.70), (1.414, 0.58), (1.420, 0.45),
         (1.425, 0.51), (1.432, 0.62), (1.437, 0.55), (1.443, 0.66), (1.450, 0.58), (1.455, 0.72),
         (1.460, 0.80), (1.466, 0.65), (1.472, 0.78), (1.478, 0.73), (1.484, 0.85), (1.490, 0.70),
         (1.496, 0.82), (1.501, 0.88), (1.508, 0.95), (1.513, 0.80), (1.518, 1.00), (1.524, 0.98),
         (1.530, 0.88), (1.535, 1.03), (1.541, 1.03), (1.547, 0.92), (1.553, 1.15), (1.559, 1.07),
         (1.565, 0.95), (1.570, 1.02), (1.576, 0.95), (1.582, 1.18), (1.588, 1.05), (1.594, 1.13),
         (1.600, 0.98), (1.605, 1.10), (1.611, 1.03), (1.617, 0.92), (1.623, 1.05), (1.629, 0.98),
         (1.635, 1.08), (1.640, 1.00), (1.646, 1.12), (1.652, 0.95), (1.657, 1.08), (1.663, 1.05),
         (1.669, 1.15), (1.675, 1.00), (1.681, 0.98), (1.688, 1.10), (1.695, 1.23), (1.700, 1.05),
         (1.705, 1.12), (1.710, 1.03), (1.716, 0.95), (1.721, 1.05), (1.727, 0.88), (1.733, 0.95),
         (1.739, 0.85), (1.745, 0.81), (1.750, 0.70), (1.756, 0.61), (1.762, 0.75), (1.768, 0.65),
         (1.774, 0.71), (1.780, 0.55), (1.786, 0.68), (1.791, 0.58), (1.797, 0.50), (1.803, 0.62),
         (1.809, 0.46), (1.815, 0.55), (1.820, 0.38), (1.826, 0.29), (1.832, 0.48), (1.838, 0.60),
         (1.843, 0.40), (1.847, 0.92), (1.852, 0.55), (1.857, 0.42), (1.861, 0.33), (1.867, 0.50),
         (1.873, 0.21), (1.878, 0.45), (1.884, 0.66), (1.890, 0.48), (1.896, 0.58), (1.902, 0.36),
         (1.908, 0.52), (1.914, 0.83), (1.920, 0.55), (1.925, 0.40), (1.931, 0.43), (1.937, 0.60),
         (1.943, 0.50), (1.948, 0.63), (1.954, 0.42), (1.960, 0.55), (1.966, 0.50), (1.972, 0.62),
         (1.977, 0.47), (1.983, 0.60), (1.990, 0.50), (1.998, 0.43), (2.004, 0.60), (2.010, 0.85),
         (2.016, 0.62), (2.024, 0.56), (2.030, 0.65), (2.036, 0.60), (2.042, 0.72), (2.047, 0.70),
         (2.053, 0.62), (2.059, 0.75), (2.065, 0.68), (2.070, 0.71), (2.076, 0.78), (2.082, 0.72),
         (2.088, 0.80), (2.093, 0.80), (2.099, 0.74), (2.105, 0.85), (2.111, 0.78), (2.117, 0.83),
         (2.122, 0.90), (2.128, 0.80), (2.134, 0.86), (2.140, 0.86), (2.146, 0.78), (2.154, 0.68),
         (2.160, 0.85), (2.166, 0.82), (2.170, 0.95), (2.175, 0.88), (2.181, 0.80), (2.187, 0.90),
         (2.192, 0.84), (2.196, 0.93), (2.202, 0.82), (2.210, 0.75), (2.216, 0.85), (2.222, 0.78),
         (2.228, 0.88), (2.233, 0.81), (2.239, 0.76), (2.245, 0.85), (2.250, 0.77), (2.256, 0.80),
         (2.262, 0.72), (2.268, 0.82), (2.274, 0.70), (2.280, 0.75), (2.286, 0.68), (2.292, 0.72),
         (2.297, 0.63), (2.303, 0.58), (2.309, 0.50), (2.315, 0.53), (2.320, 0.45), (2.326, 0.58),
         (2.332, 0.48), (2.338, 0.51), (2.344, 0.40), (2.350, 0.43), (2.356, 0.55), (2.361, 0.48),
         (2.367, 0.55), (2.373, 0.42), (2.379, 0.50), (2.385, 0.38), (2.391, 0.33), (2.397, 0.52),
         (2.402, 0.45), (2.408, 0.66), (2.414, 0.50), (2.420, 0.40), (2.426, 0.46), (2.432, 0.55),
         (2.438, 0.38), (2.443, 0.29), (2.449, 0.50), (2.455, 0.65), (2.461, 0.40), (2.466, 0.48),
         (2.472, 0.26), (2.478, 0.45), (2.483, 0.55), (2.488, 0.50), (2.491, -0.10), (2.494, 0.30),
         (2.496, 0.13), (2.500, 0.60)]

W2015 = [(0.872, 0.05), (0.875, 0.30), (0.878, 0.45), (0.882, 0.20), (0.889, 0.12), (0.896, 0.22),
         (0.903, 0.29), (0.912, 0.25), (0.921, 0.23), (0.927, 0.30), (0.933, 0.37), (0.940, 0.34),
         (0.950, 0.32), (0.958, 0.38), (0.968, 0.42), (0.976, 0.46), (0.983, 0.52), (0.990, 0.44),
         (0.997, 0.35), (1.005, 0.40), (1.014, 0.45), (1.023, 0.50), (1.033, 0.54), (1.045, 0.57),
         (1.057, 0.60), (1.068, 0.64), (1.080, 0.69), (1.090, 0.66), (1.098, 0.64), (1.107, 0.66),
         (1.116, 0.65), (1.122, 0.70), (1.127, 0.74), (1.132, 0.66), (1.137, 0.55), (1.143, 0.66),
         (1.150, 0.77), (1.156, 0.74), (1.162, 0.70), (1.168, 0.66), (1.173, 0.62), (1.180, 0.66),
         (1.188, 0.70), (1.197, 0.74), (1.208, 0.78), (1.220, 0.84), (1.232, 0.87), (1.243, 0.86),
         (1.255, 0.94), (1.266, 1.02), (1.275, 1.00), (1.285, 0.97), (1.293, 1.00), (1.302, 1.01),
         (1.311, 1.03), (1.320, 1.04), (1.326, 0.95), (1.332, 0.79), (1.338, 0.66), (1.344, 0.57),
         (1.353, 0.56), (1.362, 0.54), (1.373, 0.53), (1.385, 0.52), (1.396, 0.51), (1.408, 0.50),
         (1.420, 0.47), (1.431, 0.44), (1.437, 0.49), (1.443, 0.54), (1.454, 0.59), (1.466, 0.61),
         (1.478, 0.64), (1.484, 0.58), (1.490, 0.55), (1.496, 0.64), (1.501, 0.70), (1.512, 0.77),
         (1.524, 0.82), (1.535, 0.86), (1.547, 0.89), (1.559, 0.93), (1.571, 0.96), (1.582, 0.96),
         (1.594, 0.97), (1.606, 1.00), (1.617, 1.02), (1.629, 1.01), (1.640, 1.02), (1.652, 1.04),
         (1.663, 1.06), (1.675, 1.05), (1.687, 1.06), (1.695, 1.05), (1.704, 1.02), (1.713, 0.97),
         (1.721, 0.92), (1.730, 0.87), (1.739, 0.82), (1.748, 0.79), (1.756, 0.76), (1.765, 0.73),
         (1.774, 0.70), (1.783, 0.65), (1.791, 0.60), (1.797, 0.57), (1.803, 0.53), (1.850, nan),
         (1.942, 0.59), (1.954, 0.58), (1.966, 0.57), (1.977, 0.60), (1.989, 0.57), (2.000, 0.58),
         (2.012, 0.55), (2.021, 0.60), (2.030, 0.64), (2.044, 0.66), (2.058, 0.69), (2.070, 0.71),
         (2.082, 0.72), (2.094, 0.75), (2.105, 0.77), (2.117, 0.79), (2.128, 0.81), (2.140, 0.81),
         (2.152, 0.82), (2.163, 0.81), (2.175, 0.81), (2.187, 0.80), (2.198, 0.79), (2.210, 0.78),
         (2.222, 0.77), (2.233, 0.76), (2.245, 0.74), (2.256, 0.72), (2.268, 0.70), (2.280, 0.68),
         (2.291, 0.67), (2.297, 0.63), (2.303, 0.59), (2.315, 0.61), (2.327, 0.62), (2.338, 0.61),
         (2.350, 0.60), (2.361, 0.60), (2.373, 0.62), (2.385, 0.61), (2.396, 0.63), (2.408, 0.61),
         (2.420, 0.60), (2.432, 0.62), (2.443, 0.67), (2.450, 0.65), (2.455, 0.62), (2.460, 0.56),
         (2.464, 0.49), (2.468, 0.40), (2.473, 0.29)]

W2049 = [(0.965, 0.11), (0.968, 0.07), (0.975, 0.16), (0.982, 0.24), (0.988, 0.20), (0.994, 0.18),
         (1.000, 0.16), (1.005, 0.14), (1.011, 0.18), (1.017, 0.21), (1.021, 0.27), (1.025, 0.31),
         (1.030, 0.24), (1.034, 0.18), (1.040, 0.32), (1.046, 0.46), (1.052, 0.44), (1.057, 0.41),
         (1.063, 0.45), (1.069, 0.51), (1.078, 0.56), (1.086, 0.60), (1.095, 0.63), (1.104, 0.65),
         (1.112, 0.62), (1.121, 0.58), (1.127, 0.64), (1.133, 0.73), (1.139, 0.68), (1.144, 0.63),
         (1.150, 0.66), (1.156, 0.63), (1.162, 0.61), (1.170, 0.59), (1.179, 0.56), (1.188, 0.54),
         (1.197, 0.51), (1.205, 0.58), (1.214, 0.66), (1.223, 0.69), (1.232, 0.71), (1.240, 0.76),
         (1.249, 0.81), (1.255, 0.86), (1.261, 0.90), (1.267, 0.97), (1.272, 1.02), (1.278, 1.00),
         (1.284, 0.98), (1.290, 0.95), (1.296, 0.93), (1.301, 0.91), (1.307, 0.98), (1.313, 1.08),
         (1.318, 1.04), (1.322, 0.98), (1.326, 0.88), (1.330, 0.75), (1.334, 0.66), (1.338, 0.60),
         (1.343, 0.57), (1.347, 0.55), (1.400, nan),
         (1.424, 0.53), (1.432, 0.55), (1.440, 0.56), (1.449, 0.53), (1.458, 0.55), (1.466, 0.57),
         (1.475, 0.58), (1.481, 0.62), (1.487, 0.65), (1.495, 0.67), (1.504, 0.70), (1.512, 0.73),
         (1.521, 0.76), (1.533, 0.80), (1.545, 0.83), (1.556, 0.88), (1.568, 0.93), (1.580, 0.97),
         (1.591, 1.00), (1.600, 1.03), (1.609, 1.07), (1.617, 1.06), (1.626, 1.05), (1.637, 1.07),
         (1.649, 1.10), (1.658, 1.12), (1.667, 1.17), (1.673, 1.14), (1.678, 1.12), (1.687, 1.13),
         (1.696, 1.12), (1.704, 1.08), (1.713, 1.03), (1.722, 0.98), (1.731, 0.93), (1.740, 0.91),
         (1.748, 0.88), (1.757, 0.83), (1.766, 0.78), (1.775, 0.75), (1.783, 0.73), (1.789, 0.70),
         (1.795, 0.68), (1.801, 0.62), (1.807, 0.53), (1.850, nan),
         (1.940, 0.51), (1.946, 0.57), (1.952, 0.61), (1.961, 0.65), (1.970, 0.68), (1.978, 0.66),
         (1.987, 0.65), (1.998, 0.64), (2.010, 0.63), (2.021, 0.66), (2.033, 0.68), (2.045, 0.72),
         (2.057, 0.75), (2.068, 0.78), (2.080, 0.80), (2.092, 0.83), (2.103, 0.85), (2.118, 0.88),
         (2.132, 0.90), (2.150, 0.92), (2.167, 0.94), (2.180, 0.92), (2.196, 0.91), (2.210, 0.92),
         (2.225, 0.93), (2.240, 0.92), (2.254, 0.91), (2.268, 0.89), (2.283, 0.86), (2.290, 0.82),
         (2.295, 0.78), (2.303, 0.76), (2.312, 0.75), (2.323, 0.73), (2.335, 0.71), (2.347, 0.72),
         (2.358, 0.70), (2.370, 0.71), (2.382, 0.72), (2.393, 0.70), (2.405, 0.71), (2.416, 0.70),
         (2.428, 0.68), (2.434, 0.72), (2.440, 0.81), (2.445, 0.70), (2.449, 0.63), (2.453, 0.55),
         (2.457, 0.51), (2.460, 0.60), (2.463, 0.68)]

W0324 = [(0.700, 0.10), (0.702, 0.55), (0.704, -0.05), (0.706, 0.60), (0.708, 0.20), (0.710, -0.10),
         (0.713, 0.45), (0.716, 0.10), (0.719, -0.05), (0.722, 0.30), (0.726, 0.05), (0.730, 0.20),
         (0.735, 0.00), (0.740, -0.05), (0.745, 0.02), (0.750, -0.02), (0.757, -0.05), (0.765, -0.03),
         (0.772, -0.06), (0.780, -0.02), (0.788, -0.04), (0.795, -0.03), (0.802, -0.03), (0.810, -0.01),
         (0.818, 0.02), (0.826, 0.06), (0.834, 0.12), (0.840, 0.17), (0.848, 0.18), (0.856, 0.21),
         (0.865, 0.22), (0.875, 0.23), (0.885, 0.27), (0.895, 0.31), (0.905, 0.34), (0.915, 0.37),
         (0.925, 0.41), (0.935, 0.44), (0.945, 0.47), (0.955, 0.49), (0.965, 0.51), (0.975, 0.53),
         (0.985, 0.54), (0.995, 0.55), (1.005, 0.58), (1.015, 0.62), (1.025, 0.66), (1.035, 0.68),
         (1.045, 0.71), (1.055, 0.73), (1.065, 0.72), (1.075, 0.77), (1.082, 0.79), (1.090, 0.75),
         (1.100, 0.72), (1.110, 0.74), (1.120, 0.71), (1.130, 0.72), (1.140, 0.73), (1.150, 0.71),
         (1.160, 0.70), (1.170, 0.69), (1.180, 0.72), (1.190, 0.76), (1.200, 0.79), (1.210, 0.84),
         (1.220, 0.88), (1.230, 0.91), (1.240, 0.93), (1.250, 0.95), (1.260, 0.97), (1.270, 0.99),
         (1.280, 1.02), (1.290, 0.99), (1.300, 1.00), (1.310, 0.98), (1.320, 0.97), (1.330, 0.86),
         (1.340, 0.74), (1.350, 0.55), (1.360, 0.47), (1.370, 0.45), (1.380, 0.44), (1.390, 0.46),
         (1.400, 0.44), (1.410, 0.40), (1.420, 0.35), (1.430, 0.38), (1.440, 0.42), (1.450, 0.44),
         (1.460, 0.49), (1.470, 0.54), (1.480, 0.57), (1.490, 0.60), (1.500, 0.63), (1.510, 0.65),
         (1.520, 0.68), (1.530, 0.73), (1.540, 0.77), (1.550, 0.80), (1.560, 0.84), (1.570, 0.86),
         (1.580, 0.89), (1.590, 0.91), (1.600, 0.92), (1.610, 0.90), (1.620, 0.92), (1.630, 0.91),
         (1.640, 0.93), (1.650, 0.90), (1.660, 0.92), (1.670, 0.89), (1.680, 0.91), (1.690, 0.87),
         (1.700, 0.85), (1.710, 0.82), (1.720, 0.79), (1.730, 0.74), (1.740, 0.70), (1.750, 0.66),
         (1.760, 0.60), (1.770, 0.55), (1.780, 0.52), (1.790, 0.50), (1.800, 0.49), (1.810, 0.54),
         (1.820, 0.57), (1.830, 0.50), (1.840, 0.42), (1.850, 0.35), (1.860, 0.42), (1.870, 0.34),
         (1.880, 0.48), (1.890, 0.52), (1.900, 0.47), (1.910, 0.44), (1.920, 0.45), (1.930, 0.40),
         (1.940, 0.39), (1.950, 0.42), (1.960, 0.40), (1.970, 0.39), (1.980, 0.41), (1.990, 0.43),
         (2.000, 0.45), (2.010, 0.48), (2.020, 0.51), (2.030, 0.52), (2.040, 0.55), (2.050, 0.57),
         (2.060, 0.57), (2.070, 0.56), (2.080, 0.58), (2.090, 0.57), (2.100, 0.57), (2.110, 0.58),
         (2.120, 0.57), (2.130, 0.58), (2.140, 0.58), (2.150, 0.57), (2.160, 0.59), (2.170, 0.58),
         (2.180, 0.56), (2.190, 0.55), (2.200, 0.53), (2.210, 0.52), (2.220, 0.51), (2.230, 0.50),
         (2.240, 0.49), (2.250, 0.48), (2.260, 0.47), (2.270, 0.46), (2.280, 0.45), (2.290, 0.42),
         (2.300, 0.38), (2.310, 0.37), (2.320, 0.36), (2.330, 0.37), (2.340, 0.36), (2.350, 0.38),
         (2.360, 0.36), (2.370, 0.37), (2.380, 0.38), (2.390, 0.36), (2.400, 0.37), (2.410, 0.35),
         (2.420, 0.36), (2.430, 0.34), (2.440, 0.35), (2.450, 0.33), (2.460, 0.31), (2.470, 0.32),
         (2.480, 0.28), (2.490, 0.25), (2.500, 0.29)]

offsets = [5, 4, 3, 2, 1, 0]

left_spectra = [W0200, W0202, W0226, W0459, W0813, W0902]
left_names = ['W0200-5105 - L7 (red)', 'W0202+2305 - L7', 'W0226-1610 - L7 (red)',
              'W0459-2853 - L7: (red)', 'W0813-1522 - L7: (sl. red)', 'W0902+6708 - L7 (sl. red)']
left_types = ['L7', 'L7', 'L7', 'L7', 'L7', 'L7']
left_name_x = [1.80, 1.90, 1.80, 1.80, 1.80, 1.80]
left_name_y = [6.14, 5.14, 4.24, 3.24, 2.14, 1.14]
left_type_y = [5.99, 4.99, 4.10, 3.09, 1.99, 0.99]

right_spectra = [W1432, W1456, W2012, W2015, W2049, W0324]
right_names = ['W1432+3244 - L7', 'W1456+6450 - L7 (sl. red)', 'W2012+6726 - L7:',
               'W2015-4215 - L7:', 'W2049-7456 - L7: (red)', 'W0324-1919 - L8 (blue)']
right_types = ['L7', 'L7', 'L7', 'L7', 'L7', 'L8']
right_name_x = [1.90, 1.80, 1.90, 1.90, 1.80, 1.80]
right_name_y = [6.24, 5.14, 4.15, 3.14, 2.14, 1.03]
right_type_y = [6.09, 4.99, 3.99, 2.99, 1.99, 0.89]

templates = {'L7': L7_flux, 'L8': L8_flux}

fig = plt.figure(figsize=(15, 10), dpi=150)
ax_l = fig.add_axes([0.0604, 0.072, 0.404, 0.897])
ax_r = fig.add_axes([0.5453, 0.072, 0.4049, 0.897])

panels = [(ax_l, left_spectra, left_names, left_types, left_name_x, left_name_y, left_type_y),
          (ax_r, right_spectra, right_names, right_types, right_name_x, right_name_y, right_type_y)]

for ax, spectra, names, types, nx, ny, ty in panels:
    for spec, off, name, sptype, x0, y0, y1 in zip(spectra, offsets, names, types, nx, ny, ty):
        ax.plot(tpl_wave, np.array(templates[sptype]) + off, color='red', lw=1.0)
        w, f = np.array(spec).T
        ax.plot(w, f + off, color='black', lw=1.1)
        ax.text(x0, y0, name, fontsize=12, va='center', ha='left')
        ax.text(2.2, y1, sptype, fontsize=12, va='center', ha='left', color='red')
    ax.set_xlim(0.7, 2.5)
    ax.set_ylim(-0.3, 6.5)
    ax.set_xticks([1.0, 1.5, 2.0, 2.5])
    ax.set_yticks([0, 1, 2, 3, 4, 5, 6])
    ax.tick_params(direction='in', top=True, right=True, length=5, width=0.8,
                   labelsize=12, pad=6)
    for sp in ax.spines.values():
        sp.set_linewidth(1.0)
    ax.set_xlabel(r'$\lambda\ (\mu m)$', fontsize=14, labelpad=4)
    ax.set_ylabel(r'$\mathrm{F_\lambda\ \ +\ \ constant}$', fontsize=15, labelpad=8)

fig.savefig('out.png', dpi=150)
